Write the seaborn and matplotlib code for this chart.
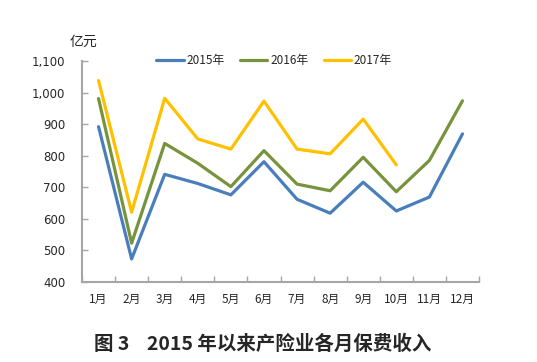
import matplotlib
matplotlib.use("Agg")
import matplotlib.pyplot as plt
import seaborn as sns
import pandas as pd
import numpy as np
from matplotlib.ticker import FuncFormatter, FixedLocator

months = ["1月", "2月", "3月", "4月", "5月", "6月", "7月", "8月", "9月", "10月", "11月", "12月"]
y2015 = [892, 473, 741, 712, 676, 781, 662, 618, 716, 625, 669, 869]
y2016 = [981, 523, 839, 776, 702, 816, 710, 689, 795, 686, 785, 974]
y2017 = [1038, 621, 982, 853, 821, 973, 821, 806, 916, 771]
series_names = ["2015年", "2016年", "2017年"]
colors = ["#4A7EBB", "#77933C", "#FFC000"]

rows = []
for name, vals in zip(series_names, [y2015, y2016, y2017]):
    for i, v in enumerate(vals):
        rows.append({"month": months[i], "idx": i, "value": v, "year": name})
df = pd.DataFrame(rows)

sns.set_theme(style="white")
plt.rcParams['font.family'] = ['Noto Sans CJK SC', 'DejaVu Sans']

fig = plt.figure(figsize=(5.37, 3.62), dpi=100)
ax = fig.add_axes([0.1527, 0.221, 0.892 - 0.1527, 0.8315 - 0.221])

sns.lineplot(data=df, x="idx", y="value", hue="year", palette=colors,
             hue_order=series_names, linewidth=2.3, ax=ax, legend=True)

ax.set_xlim(-0.5, 11.5)
ax.set_ylim(400, 1100)
ax.set_yticks(np.arange(400, 1101, 100))
ax.yaxis.set_major_formatter(FuncFormatter(lambda v, p: f"{int(v):,}"))
ax.set_xticks(range(12))
ax.set_xticklabels(months, fontsize=8.5)
ax.xaxis.set_minor_locator(FixedLocator(np.arange(-0.5, 12, 1)))
ax.tick_params(axis='x', which='major', length=0, pad=8)
ax.tick_params(axis='x', which='minor', direction='in', length=4, color='#A6A6A6', width=1, bottom=True)
ax.tick_params(axis='y', direction='in', length=4, color='#A6A6A6', width=1, left=True, labelsize=8.5, pad=12)
for lbl in ax.get_yticklabels():
    lbl.set_family(['DejaVu Sans'])
ax.set_xlabel("")
ax.set_ylabel("")
for s in ["top", "right"]:
    ax.spines[s].set_visible(False)
for s in ["left", "bottom"]:
    ax.spines[s].set_color("#A6A6A6")
    ax.spines[s].set_linewidth(1.5)

leg = ax.legend(loc="center", bbox_to_anchor=(0.484, 1.0), ncol=3, frameon=False,
                fontsize=8.5, handlelength=2.3, columnspacing=1.3, handletextpad=0.25)
for line in leg.get_lines():
    line.set_linewidth(2.3)

fig.text(0.13, 0.865, "亿元", fontsize=10, ha="left", va="bottom")
fig.text(0.49, 0.05, "图 3    2015 年以来产险业各月保费收入", fontsize=14, fontweight="bold",
         ha="center", va="center")

fig.savefig("out.png", dpi=100)
